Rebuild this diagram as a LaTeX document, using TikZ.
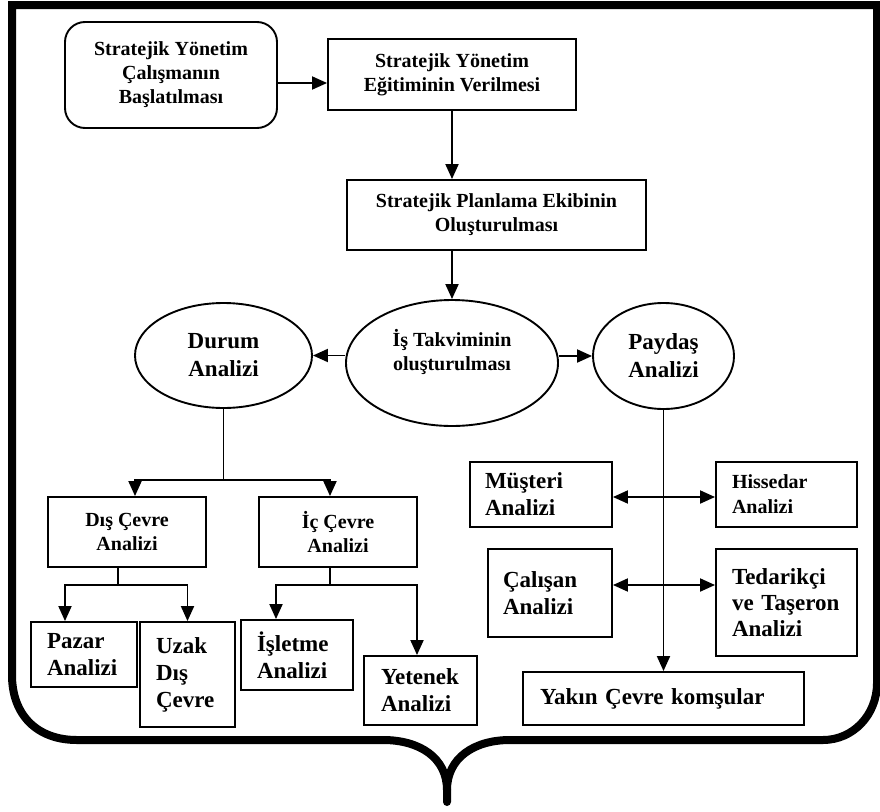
\documentclass[tikz,border=0pt]{standalone}
\usepackage{fontspec}
\setmainfont{Liberation Serif}
\usetikzlibrary{arrows.meta,shapes.geometric}
\begin{document}
\begin{tikzpicture}[x=1pt,y=-1pt,
  big/.style={font=\bfseries\fontsize{23}{27}\selectfont},
  small/.style={font=\bfseries\fontsize{20}{24}\selectfont},
  box/.style n args={2}{draw, line width=1.9pt, rectangle, inner sep=0pt,
    align=center, minimum width=#1, minimum height=#2},
  lbox/.style n args={4}{draw, line width=1.9pt, rectangle, inner ysep=0pt,
    inner xsep=#3, text width=#4, align=left, minimum width=#1, minimum height=#2},
  oval/.style n args={2}{draw, ellipse, line width=1.9pt, inner sep=0pt,
    align=center, minimum width=#1, minimum height=#2},
  arr/.style={line width=1.9pt, -{Triangle[length=15pt,width=13pt]}},
  arrtwo/.style={line width=1.9pt, {Triangle[length=15pt,width=13pt]}-{Triangle[length=15pt,width=13pt]}},
  link/.style={line width=1.9pt},
  frame/.style={line width=8pt, line cap=round, line join=miter}
]
\useasboundingbox (0,0) rectangle (880,811);

% outer frame with the brace point at the bottom
\draw[frame] (880,5) -- (12,5) -- (12,675)
  .. controls (12,715) and (37,740) .. (77,740) -- (383,740)
  .. controls (420,740) and (447,758) .. (447,790) -- (447,802);
\draw[frame] (877,5) -- (877,683)
  .. controls (877,715) and (853,740) .. (823,740) -- (510,740)
  .. controls (474,740) and (447,758) .. (447,790);

% top sequence
\node[box={212pt}{106pt}, rounded corners=20pt, small] (b1) at (171,75)
  {Stratejik Yönetim\\Çalışmanın\\Başlatılması};
\node[box={248pt}{71pt}, small] (b2) at (452,74.5)
  {Stratejik Yönetim\\Eğitiminin Verilmesi};
\node[box={299pt}{70pt}, small] (b3) at (496.5,215)
  {Stratejik Planlama Ekibinin\\Oluşturulması};

% central ellipses
\node[oval={212pt}{126pt}] (is) at (452,363) {};
\node[small, align=center] (istext) at (452,352) {İş Takviminin\\oluşturulması};
\node[oval={177pt}{105pt}, font=\bfseries\fontsize{23}{28}\selectfont] (durum) at (223.5,355.5) {Durum\\Analizi};
\node[oval={141pt}{106pt}, font=\bfseries\fontsize{23}{28}\selectfont] (paydas) at (663.5,356) {Paydaş\\Analizi};

% situation analysis branch
\node[box={158pt}{70pt}, small] (dis) at (127,532) {Dış Çevre\\Analizi};
\node[box={158pt}{70pt}, small] (ic) at (338,532) {İç Çevre\\Analizi};
\node[lbox={106pt}{65pt}{16pt}{74pt}, big] (pazar) at (84,654.5) {Pazar\\Analizi};
\node[lbox={95pt}{105pt}{16pt}{63pt}, big] (uzak) at (187.5,674.5) {Uzak\\Dış\\Çevre};
\node[lbox={112pt}{70pt}{16pt}{80pt}, big] (isletme) at (297,655) {İşletme\\Analizi};
\node[lbox={113pt}{69pt}{17pt}{79pt}, big] (yetenek) at (420.5,690.5) {Yetenek\\Analizi};

% stakeholder analysis branch
\node[lbox={142pt}{65pt}{15pt}{112pt}, big] (musteri) at (541,494.5) {Müşteri\\Analizi};
\node[lbox={141pt}{65pt}{16pt}{109pt}, font=\bfseries\fontsize{20}{25}\selectfont] (hissedar) at (786.5,494.5) {Hissedar\\Analizi};
\node[lbox={124pt}{88pt}{15pt}{94pt}, big] (calisan) at (550,593) {Çalışan\\Analizi};
\node[lbox={141pt}{107pt}{16pt}{109pt}, font=\bfseries\fontsize{23}{26}\selectfont] (tedarik) at (786.5,602.5) {Tedarikçi\\ve Taşeron\\Analizi};
\node[lbox={281pt}{53pt}{17pt}{247pt}, big] (yakin) at (663.5,698.5) {Yakın Çevre komşular};

% connectors
\draw[arr] ([yshift=-8pt]b1.east) -- ([yshift=-8pt]b1.east -| b2.west);
\draw[arr] (b2.south) -- (b2.south |- b3.north);
\draw[arr] (is.north |- b3.south) -- (is.north);
\draw[arr] (is.west |- durum.east) -- (durum.east);
\draw[arr] (is.east |- paydas.west) -- (paydas.west);

\coordinate (dj) at (223.5,480);
\draw[link] (durum.south) -- (dj);
\draw[arr] (dj) -| ([xshift=8pt]dis.north);
\draw[arr] (dj) -| ([xshift=-8pt]ic.north);

\coordinate (disj) at (118,585);
\draw[link] ([xshift=-9pt]dis.south) -- (disj);
\draw[arr] (disj) -| ([xshift=-19pt]pazar.north);
\draw[arr] (disj) -| (uzak.north);

\coordinate (icj) at (330,585);
\draw[link] ([xshift=-8pt]ic.south) -- (icj);
\draw[arr] (icj) -| ([xshift=-21pt]isletme.north);
\draw[arr] (icj) -| ([xshift=-3.5pt]yetenek.north);

\draw[arr] (paydas.south) -- (paydas.south |- yakin.north);
\draw[arrtwo] ([yshift=-2.5pt]musteri.east) -- ([yshift=-2.5pt]musteri.east -| hissedar.west);
\draw[arrtwo] ([yshift=8pt]calisan.east) -- ([yshift=8pt]calisan.east -| tedarik.west);
\end{tikzpicture}
\end{document}
